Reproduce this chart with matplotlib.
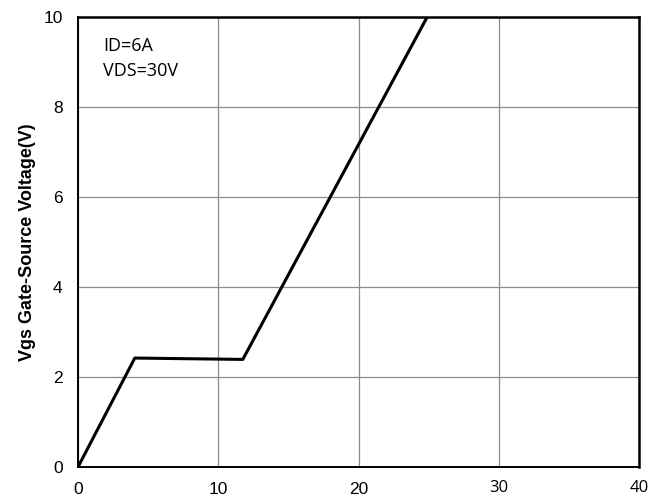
import numpy as np
import matplotlib
matplotlib.use("Agg")
import matplotlib.pyplot as plt
from matplotlib.transforms import ScaledTranslation

# gate charge curve
qg = [0, 4.05, 11.75, 24.9]
vgs = [0, 2.42, 2.39, 10]

x_ticks = [0, 10, 20, 30, 40]
y_ticks = [0, 2, 4, 6, 8, 10]
notes = ["ID=6A", "VDS=30V"]

fig = plt.figure(figsize=(6.65, 4.96), dpi=100)
ax = fig.add_axes([0.1173, 0.0585, 0.8437, 0.9075])

ax.plot(qg, vgs, color="black", lw=2.2, solid_capstyle="round", zorder=3)

ax.set_xlim(0, 40)
ax.set_ylim(0, 10)
ax.set_xticks(x_ticks)
ax.set_yticks(y_ticks)
ax.grid(True, color="#8c8c8c", lw=0.9)
ax.tick_params(length=0, labelsize=12.5)
ax.tick_params(axis="y", pad=11)
ax.tick_params(axis="x", pad=10.5)

for lab in ax.get_yticklabels():
    lab.set_family("Liberation Sans")
# the last two labels use a different face; nudge them so the digits line up
shift_up = ScaledTranslation(0, 1.2 / 72, fig.dpi_scale_trans)
for i, lab in enumerate(ax.get_xticklabels()):
    if x_ticks[i] >= 30:
        lab.set_family("Open Sans")
        lab.set_fontsize(12)
        lab.set_transform(lab.get_transform() + shift_up)
    else:
        lab.set_family("Liberation Sans")

for s in ax.spines.values():
    s.set_linewidth(1.8)
    s.set_color("black")
ax.spines["bottom"].set_linewidth(1.4)
ax.spines["left"].set_linewidth(1.4)

ax.set_ylabel("Vgs Gate-Source Voltage(V)", fontsize=13, fontweight="bold",
              family="Liberation Sans", labelpad=5)

ax.text(1.78, 9.35, notes[0], fontsize=13, family="Open Sans", va="center")
ax.text(1.78, 8.79, notes[1], fontsize=13, family="Open Sans", va="center")

fig.savefig("out.png", dpi=100)
